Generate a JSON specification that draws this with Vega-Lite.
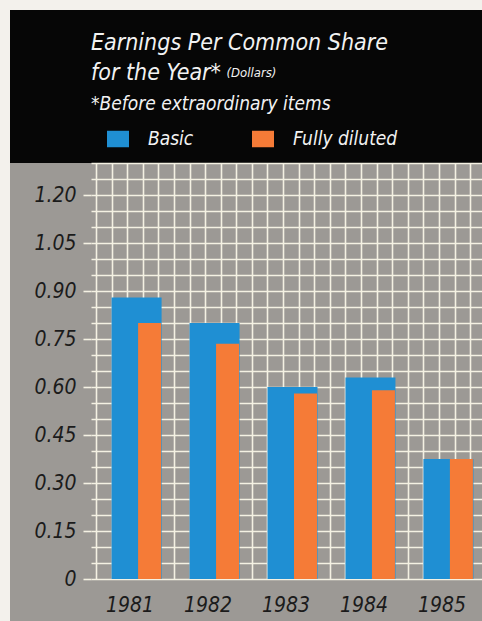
{
  "$schema": "https://vega.github.io/schema/vega-lite/v6.json",
  "background": "#f3f1ec",
  "padding": {"left": 10, "top": 10, "right": 0, "bottom": 0},
  "spacing": 0,
  "bounds": "flush",
  "config": {
    "view": {"stroke": null},
    "font": "'DejaVu Sans Condensed', 'Liberation Sans', sans-serif"
  },
  "vconcat": [
    {
      "width": 472,
      "height": 153,
      "view": {"fill": "#060606", "stroke": null},
      "title": {
        "text": ["Earnings Per Common Share", "for the Year*"],
        "subtitle": "*Before extraordinary items",
        "orient": "top",
        "anchor": "start",
        "frame": "group",
        "offset": -104,
        "dx": 81,
        "font": "'DejaVu Sans Condensed', 'Liberation Sans', sans-serif",
        "fontSize": 23,
        "fontStyle": "italic",
        "fontWeight": "normal",
        "lineHeight": 30,
        "color": "#f2f2f2",
        "subtitleFont": "'DejaVu Sans Condensed', 'Liberation Sans', sans-serif",
        "subtitleFontSize": 19,
        "subtitleFontStyle": "italic",
        "subtitleColor": "#f2f2f2",
        "subtitlePadding": 10
      },
      "data": {"values": [{"t": ""}]},
      "mark": {"type": "text"},
      "encoding": {"text": {"field": "t", "type": "nominal"}}
    },
    {
      "width": 472,
      "height": 458,
      "view": {"fill": "#9c9995", "stroke": null},
      "data": {
        "values": [
          {"year": 1981, "series": "Basic", "eps": 0.88},
          {"year": 1981, "series": "Fully diluted", "eps": 0.80},
          {"year": 1982, "series": "Basic", "eps": 0.80},
          {"year": 1982, "series": "Fully diluted", "eps": 0.735},
          {"year": 1983, "series": "Basic", "eps": 0.60},
          {"year": 1983, "series": "Fully diluted", "eps": 0.58},
          {"year": 1984, "series": "Basic", "eps": 0.63},
          {"year": 1984, "series": "Fully diluted", "eps": 0.59},
          {"year": 1985, "series": "Basic", "eps": 0.375},
          {"year": 1985, "series": "Fully diluted", "eps": 0.375}
        ]
      },
      "encoding": {
        "x": {
          "field": "year",
          "type": "quantitative",
          "scale": {"domain": [1980.8, 1985.6875], "range": [81, 472], "nice": false, "zero": false},
          "axis": {
            "orient": "top",
            "values": [1980.8, 1981, 1981.2, 1981.4, 1981.6, 1981.8, 1982, 1982.2, 1982.4, 1982.6, 1982.8, 1983, 1983.2, 1983.4, 1983.6, 1983.8, 1984, 1984.2, 1984.4, 1984.6, 1984.8, 1985, 1985.2, 1985.4, 1985.6],
            "title": null,
            "grid": true,
            "gridColor": "#f4f1e3",
            "gridWidth": 1.6,
            "gridOpacity": 1,
            "domain": false,
            "ticks": false,
            "offset": -458,
            "labelExpr": "abs(datum.value - round(datum.value)) < 0.01 ? format(round(datum.value), 'd') : ''",
            "labelOffset": 18,
            "labelPadding": 16,
            "labelBaseline": "middle",
            "labelFlush": false,
            "labelOverlap": false,
            "labelFontSize": 21,
            "labelFontStyle": "italic",
            "labelColor": "#1b1b1b"
          }
        },
        "y": {
          "field": "eps",
          "type": "quantitative",
          "stack": null,
          "scale": {"domain": [0, 1.3], "range": [416, 0], "nice": false},
          "axis": {
            "values": [0, 0.05, 0.1, 0.15, 0.2, 0.25, 0.3, 0.35, 0.4, 0.45, 0.5, 0.55, 0.6, 0.65, 0.7, 0.75, 0.8, 0.85, 0.9, 0.95, 1.0, 1.05, 1.1, 1.15, 1.2, 1.25, 1.3],
            "grid": true,
            "gridColor": "#f4f1e3",
            "gridWidth": 1.6,
            "gridOpacity": 1,
            "domain": false,
            "offset": -81,
            "ticks": true,
            "tickSize": 8,
            "tickWidth": 1.6,
            "tickColor": "#f4f1e3",
            "tickOpacity": {"condition": {"test": "abs(datum.value/0.15 - round(datum.value/0.15)) < 0.001", "value": 1}, "value": 0},
            "labelExpr": "abs(datum.value/0.15 - round(datum.value/0.15)) < 0.001 ? (datum.value == 0 ? '0' : format(datum.value, '.2f')) : ''",
            "labelPadding": 7,
            "labelOverlap": false,
            "labelFontSize": 21,
            "labelFontStyle": "italic",
            "labelColor": "#1b1b1b",
            "title": "(Dollars)",
            "titleAngle": 0,
            "titleX": 135,
            "titleY": -87,
            "titleAlign": "left",
            "titleBaseline": "alphabetic",
            "titleFontSize": 13,
            "titleFontStyle": "italic",
            "titleFontWeight": "normal",
            "titleColor": "#f2f2f2"
          }
        },
        "color": {
          "field": "series",
          "type": "nominal",
          "scale": {"domain": ["Basic", "Fully diluted"], "range": ["#1f8fd3", "#f57b37"]},
          "legend": {
            "orient": "none",
            "legendX": 97,
            "legendY": 118,
            "direction": "horizontal",
            "title": null,
            "padding": 0,
            "symbolType": "M-1,-0.75L1,-0.75L1,0.75L-1,0.75Z",
            "symbolSize": 484,
            "symbolStrokeWidth": 0,
            "symbolOpacity": 1,
            "labelFontSize": 19,
            "labelFontStyle": "italic",
            "labelColor": "#f2f2f2",
            "labelOffset": 19,
            "columnPadding": 58,
            "labelLimit": 300
          }
        }
      },
      "layer": [
        {
          "transform": [{"filter": "datum.series == 'Basic'"}],
          "mark": {"type": "bar", "orient": "vertical", "width": 50, "xOffset": 25}
        },
        {
          "transform": [{"filter": "datum.series == 'Fully diluted'"}],
          "mark": {"type": "bar", "orient": "vertical", "width": 23, "xOffset": 38}
        }
      ]
    }
  ]
}
